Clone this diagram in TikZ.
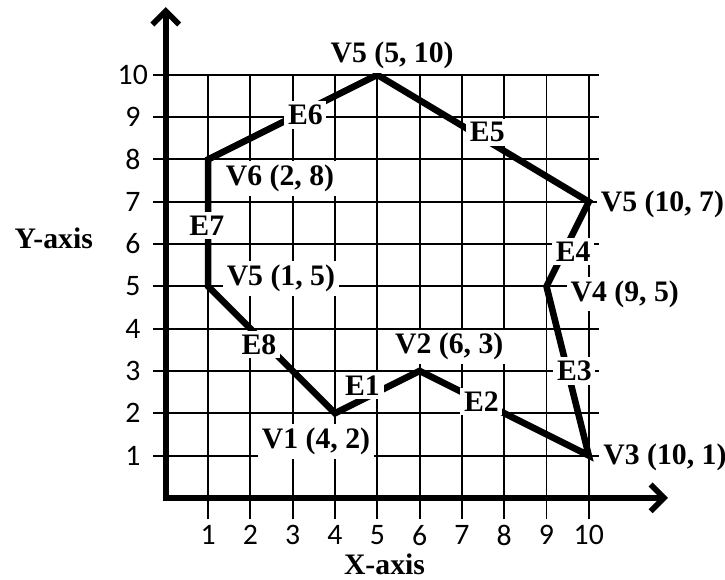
\documentclass[tikz,border=0pt]{standalone}
\usepackage{fontspec}
\setmainfont{Liberation Serif}
\newfontfamily\tickfont{Carlito}
\usetikzlibrary{arrows.meta}

\begin{document}
\begin{tikzpicture}[
        barb/.tip={Straight Barb[length=9pt,width=18pt]},
        gridline/.style={line width=1.3pt},
        axis/.style={line width=3.8pt, barb-barb},
        edge/.style={line width=4.4pt, miter limit=6},
        lbl/.style={fill=white, inner sep=2.5pt, font=\fontsize{20}{24}\selectfont\bfseries},
        axislabel/.style={inner sep=0pt, font=\fontsize{20}{24}\selectfont\bfseries},
        tick/.style={inner sep=0.5pt, font=\tickfont\fontsize{20}{24}\selectfont}
    ]
    \useasboundingbox (-3.92,-1.94) rectangle (13.22,11.77);

    % Grid
    \foreach \x in {1,...,10} \draw[gridline] (\x,-0.5) -- (\x,10);
    \foreach \y in {1,...,10} \draw[gridline] (-0.3,\y) -- (10.25,\y);

    % Axes
    \coordinate (o) at (0,0);
    \coordinate (xend) at (11.87,0);
    \coordinate (yend) at (0,11.6);
    \draw[axis] (yend) -- (o) -- (xend);

    % Tick labels
    \foreach \x in {1,...,10} \node[tick] (xt\x) at (\x,-0.88) {\x};
    \foreach \y in {1,...,10} \node[tick] (yt\y) at (-0.78,\y) {\y};
    \node[axislabel] (xlab) at (5.17,-1.57) {X-axis};
    \node[axislabel] (ylab) at (-2.65,6.14) {Y-axis};

    % Vertices
    \coordinate (v1) at (4,2);
    \coordinate (v2) at (6,3);
    \coordinate (v3) at (10,1);
    \coordinate (v4) at (9,5);
    \coordinate (v5r) at (10,7);
    \coordinate (v5t) at (5,10);
    \coordinate (v6) at (1,8);
    \coordinate (v5l) at (1,5);

    % Polygon
    \draw[edge] (v1) -- (v2) -- (v3) -- (v4) -- (v5r) -- (v5t) -- (v6) -- (v5l) -- cycle;

    % Edge labels
    \node[lbl] (e1) at (4.65,2.66) {E1};
    \node[lbl] (e2) at (7.46,2.27) {E2};
    \node[lbl] (e3) at (9.66,3.0) {E3};
    \node[lbl] (e4) at (9.63,5.83) {E4};
    \node[lbl] (e5) at (7.6,8.64) {E5};
    \node[lbl] (e6) at (3.3,9.05) {E6};
    \node[lbl] (e7) at (0.97,6.43) {E7};
    \node[lbl] (e8) at (2.2,3.62) {E8};

    % Vertex labels
    \node[lbl] (l1) at (3.55,1.33) {V1 (4, 2)};
    \node[lbl] (l2) at (6.7,3.57) {V2 (6, 3)};
    \node[lbl] (l3) at (11.8,0.95) {V3 (10, 1)};
    \node[lbl] (l4) at (10.85,4.82) {V4 (9, 5)};
    \node[lbl] (l5r) at (11.74,6.93) {V5 (10, 7)};
    \node[lbl] (l5t) at (5.35,10.45) {V5 (5, 10)};
    \node[lbl] (l6) at (2.7,7.55) {V6 (2, 8)};
    \node[lbl] (l5l) at (2.72,5.19) {V5 (1, 5)};

\end{tikzpicture}
\end{document}
